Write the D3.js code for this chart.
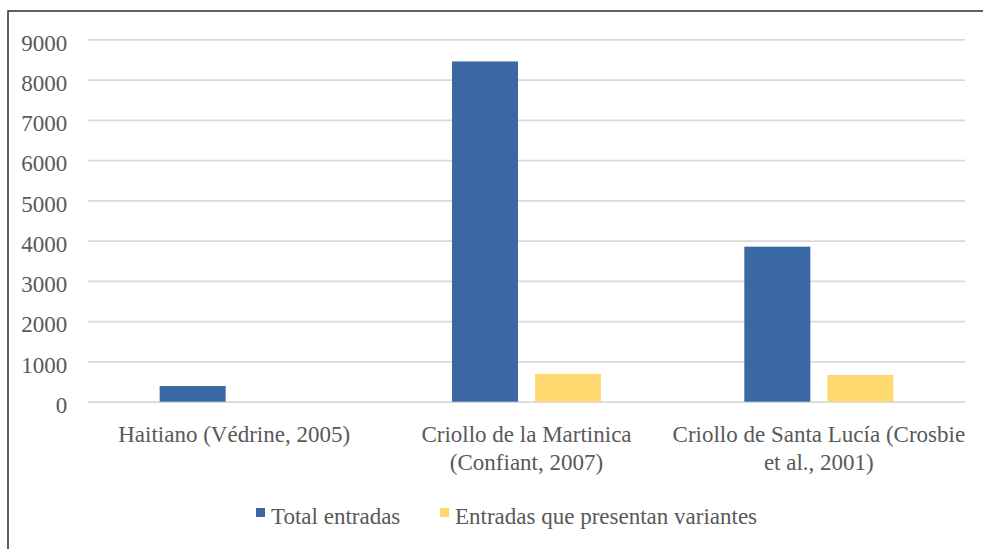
<!DOCTYPE html>
<html>
<head>
<meta charset="utf-8">
<script src="https://cdn.jsdelivr.net/npm/d3@7"></script>
<style>
  body { margin: 0; background: #fff; }
  svg { display: block; }
</style>
</head>
<body>
<svg id="main_svg" width="983" height="549"></svg>
<script>
// chart data
const categories = [
  ['Haitiano (Védrine, 2005)'],
  ['Criollo de la Martinica', '(Confiant, 2007)'],
  ['Criollo de Santa Lucía (Crosbie', 'et al., 2001)']
];
const seriesNames = ['Total entradas', 'Entradas que presentan variantes'];
const totalEntradas = [390, 8450, 3850];
const entradasVariantes = [0, 690, 665];
const yTicks = [0, 1000, 2000, 3000, 4000, 5000, 6000, 7000, 8000, 9000];

const colors = ['#3a68a5', '#ffd970'];
const textColor = '#595959';
const fontFamily = "'Liberation Serif'";
const fontSize = '23px';

const svg = d3.select('#main_svg');

// outer frame (runs off right/bottom as in the original crop)
svg.append('rect')
  .attr('x', 8)
  .attr('y', 11)
  .attr('width', 1000)
  .attr('height', 600)
  .attr('fill', 'none')
  .attr('stroke', '#2b2b2b')
  .attr('stroke-width', 1.5);

const plot = { left: 88, right: 965, top: 39.3, bottom: 401.7 };

const catKeys = categories.map(function(d, i) { return i; });

const x0 = d3.scaleBand()
  .domain(catKeys)
  .range([plot.left, plot.right])
  .paddingInner(0)
  .paddingOuter(0);

// two bars per group, 66px wide with a 17px gap
const x1 = d3.scaleBand()
  .domain(seriesNames)
  .range([0, x0.bandwidth()])
  .paddingInner(17 / 83)
  .paddingOuter(0.863);

const y = d3.scaleLinear()
  .domain([0, 9000])
  .range([plot.bottom, plot.top]);

function styleText(sel) {
  sel.style('font-family', fontFamily)
    .style('font-size', fontSize)
    .style('fill', textColor);
}

// gridlines
svg.append('g')
  .attr('class', 'grid')
  .attr('transform', 'translate(' + plot.left + ',0)')
  .call(d3.axisLeft(y).tickValues(yTicks).tickSize(-(plot.right - plot.left)).tickFormat(''))
  .call(function(g) { g.select('.domain').remove(); })
  .selectAll('line')
  .attr('stroke', '#d9d9d9')
  .attr('stroke-width', 1.8);

// y tick labels
const yAxis = svg.append('g')
  .attr('transform', 'translate(' + plot.left + ',0)')
  .call(d3.axisLeft(y).tickValues(yTicks).tickSize(0).tickPadding(20.7).tickFormat(d3.format('d')));
yAxis.select('.domain').remove();
yAxis.selectAll('text')
  .attr('dy', '0.47em')
  .call(styleText);

// bars
const rows = catKeys.map(function(i) {
  return [
    { key: seriesNames[0], value: totalEntradas[i] },
    { key: seriesNames[1], value: entradasVariantes[i] }
  ];
});

svg.append('g')
  .selectAll('g')
  .data(rows)
  .join('g')
  .attr('transform', function(d, i) { return 'translate(' + x0(i) + ',0)'; })
  .selectAll('rect')
  .data(function(d) { return d.filter(function(v) { return v.value > 0; }); })
  .join('rect')
  .attr('x', function(d) { return x1(d.key); })
  .attr('y', function(d) { return y(d.value); })
  .attr('width', x1.bandwidth())
  .attr('height', function(d) { return y(0) - y(d.value); })
  .attr('fill', function(d) { return colors[seriesNames.indexOf(d.key)]; });

// category labels (two lines where needed)
const catLabels = svg.append('g')
  .selectAll('text')
  .data(categories)
  .join('text')
  .attr('text-anchor', 'middle')
  .call(styleText);

catLabels.selectAll('tspan')
  .data(function(d, i) { return d.map(function(line) { return { line: line, i: i }; }); })
  .join('tspan')
  .attr('x', function(d) { return x0(d.i) + x0.bandwidth() / 2; })
  .attr('y', function(d, j) { return 441.5 + j * 28; })
  .text(function(d) { return d.line; });

// legend
const legendX = [256, 440];
const legend = svg.append('g')
  .selectAll('g')
  .data(seriesNames)
  .join('g')
  .attr('transform', function(d, i) { return 'translate(' + legendX[i] + ',0)'; });

legend.append('rect')
  .attr('x', 0)
  .attr('y', 508)
  .attr('width', 9)
  .attr('height', 9)
  .attr('fill', function(d, i) { return colors[i]; });

legend.append('text')
  .attr('x', 15)
  .attr('y', 524)
  .call(styleText)
  .text(function(d) { return d; });
</script>
</body>
</html>
